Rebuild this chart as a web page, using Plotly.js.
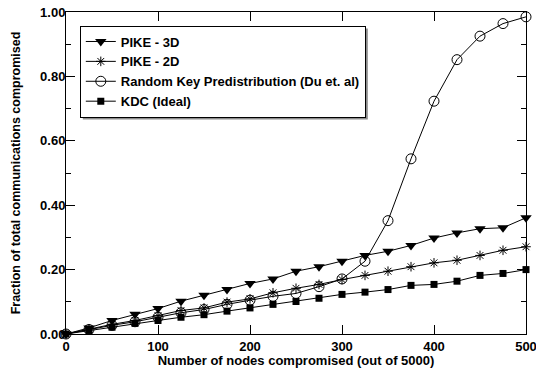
<!DOCTYPE html>
<html>
<head>
<meta charset="utf-8">
<script src="https://cdn.plot.ly/plotly-3.0.1.min.js"></script>
<style>html,body{margin:0;padding:0;background:#fff;}#chart{width:536px;height:368px;}</style>
</head>
<body>
<div id="chart"></div>
<script>
const nodes = [0,25,50,75,100,125,150,175,200,225,250,275,300,325,350,375,400,425,450,475,500];
const pike3d = [0,0.019,0.042,0.061,0.079,0.102,0.120,0.138,0.157,0.171,0.195,0.209,0.226,0.244,0.257,0.275,0.298,0.314,0.327,0.330,0.361];
const pike2d = [0,0.016,0.030,0.042,0.057,0.073,0.081,0.099,0.109,0.128,0.142,0.154,0.169,0.182,0.195,0.209,0.221,0.229,0.244,0.260,0.271];
const randomKey = [0,0.014,0.027,0.038,0.052,0.066,0.076,0.092,0.105,0.117,0.126,0.147,0.171,0.226,0.352,0.544,0.723,0.852,0.925,0.964,0.985];
const kdc = [0,0.011,0.021,0.033,0.042,0.052,0.060,0.071,0.081,0.092,0.101,0.111,0.123,0.130,0.138,0.151,0.154,0.164,0.182,0.188,0.200];
const seriesNames = ['PIKE - 3D','PIKE - 2D','Random Key Predistribution (Du et. al)','KDC (Ideal)'];
const xTickVals = [0,100,200,300,400,500];
const yTickVals = [0,0.2,0.4,0.6,0.8,1.0];
const yMinorVals = [0.1,0.3,0.5,0.7,0.9];

const line = {color:'#000', width:1};
const traces = [
  {x:nodes, y:pike3d, name:seriesNames[0], mode:'lines+markers', line:line,
   marker:{symbol:'triangle-down', size:10, color:'#000'}, cliponaxis:false},
  {x:nodes, y:pike2d, name:seriesNames[1], mode:'lines+markers', line:line,
   marker:{symbol:'asterisk-open', size:8, color:'#000', line:{color:'#000', width:1}}, cliponaxis:false},
  {x:nodes, y:randomKey, name:seriesNames[2], mode:'lines+markers', line:line,
   marker:{symbol:'circle-open', size:10, color:'#000', line:{color:'#000', width:1}}, cliponaxis:false},
  {x:nodes, y:kdc, name:seriesNames[3], mode:'lines+markers', line:line,
   marker:{symbol:'square', size:7, color:'#000'}, cliponaxis:false}
];

const fam = '"Liberation Sans", Arial, sans-serif';
const bold = (s) => ({family:fam, size:s, color:'#000', weight:'bold'});
const M = {l:66, r:10, t:12, b:34};
const W = 536, H = 368;
const layout = {
  width:W, height:H,
  margin:M,
  paper_bgcolor:'#fff', plot_bgcolor:'#fff',
  font:bold(12),
  showlegend:true,
  legend:{x:0.03, y:0.958, xanchor:'left', yanchor:'top', bgcolor:'#fff',
    bordercolor:'#000', borderwidth:1, font:bold(13),
    tracegroupgap:0, itemwidth:30},
  xaxis:{range:[0,500], tickvals:xTickVals, ticktext:xTickVals.map(String),
    ticks:'inside', ticklen:9, tickcolor:'#000', tickwidth:1,
    showline:true, linecolor:'#000', linewidth:1, mirror:'ticks',
    showgrid:false, zeroline:false, ticklabeloverflow:'allow',
    tickfont:bold(13),
    title:{text:'Number of nodes compromised (out of 5000)', standoff:4, font:bold(13)}},
  yaxis:{range:[0,1], tickvals:yTickVals, ticktext:yTickVals.map(v=>v.toFixed(2)),
    ticks:'inside', ticklen:9, tickcolor:'#000', tickwidth:1,
    minor:{tickvals:yMinorVals, ticks:'inside', ticklen:5, tickcolor:'#000', tickwidth:1},
    showline:true, linecolor:'#000', linewidth:1, mirror:'ticks',
    showgrid:false, zeroline:false, ticklabelstandoff:-3,
    tickfont:bold(13),
    title:{text:'Fraction of total communications compromised', standoff:16, font:bold(12.5)}}
};
Plotly.newPlot('chart', traces, layout, {displayModeBar:false, staticPlot:true}).then(function(gd){
  // drop shadow behind the legend box, sized from the rendered legend
  const bg = gd.querySelector('.legend .bg');
  const rootRect = gd.getBoundingClientRect();
  const r = bg.getBoundingClientRect();
  const pw = W - M.l - M.r, ph = H - M.t - M.b;
  const toX = px => (px - rootRect.left - M.l) / pw;
  const toY = py => 1 - (py - rootRect.top - M.t) / ph;
  const off = 2.5;
  return Plotly.relayout(gd, {shapes:[{type:'rect', xref:'paper', yref:'paper', layer:'above',
    x0:toX(r.left + off), x1:toX(r.right + off), y0:toY(r.bottom + off), y1:toY(r.top + off),
    fillcolor:'#8c8c8c', line:{width:0}}]});
});
</script>
</body>
</html>
